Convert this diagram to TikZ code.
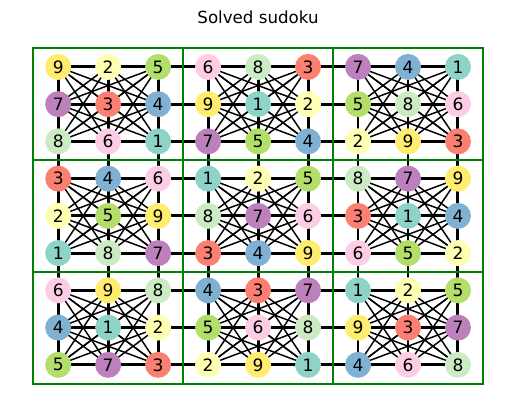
\documentclass[tikz,border=0pt]{standalone}
\usepackage{fontspec}
\setmainfont{DejaVu Sans}
\definecolor{d1}{HTML}{8DD3C7}
\definecolor{d2}{HTML}{FFFFB3}
\definecolor{d3}{HTML}{FB8072}
\definecolor{d4}{HTML}{80B1D3}
\definecolor{d5}{HTML}{B3DE69}
\definecolor{d6}{HTML}{FCCDE5}
\definecolor{d7}{HTML}{BC80BD}
\definecolor{d8}{HTML}{CCEBC5}
\definecolor{d9}{HTML}{FFED6F}
\definecolor{boxgreen}{HTML}{008000}
\pgfdeclarelayer{edges}
\pgfdeclarelayer{frame}
\pgfsetlayers{edges,frame,main}
\tikzset{
  cell/.style={circle, fill=d#1, minimum size=19.5pt, inner sep=0pt,
    font=\fontsize{12.8}{14}\selectfont},
  lineedge/.style={line width=2.2pt, black},
  boxedge/.style={line width=1.1pt, black},
  boxline/.style={line width=1.5pt, draw=boxgreen},
  title/.style={font=\fontsize{12.5}{15}\selectfont},
}

\begin{document}
\begin{tikzpicture}[x=0.75pt, y=-0.75pt]
  \useasboundingbox (0,0) rectangle (515,411);
  \node[title] (title) at (258,17) {Solved sudoku};
  % the 81 cells, one row of the solution at a time
  \foreach \row [count=\r from 0] in {
      {9,2,5,6,8,3,7,4,1}, {7,3,4,9,1,2,5,8,6}, {8,6,1,7,5,4,2,9,3},
      {3,4,6,1,2,5,8,7,9}, {2,5,9,8,7,6,3,1,4}, {1,8,7,3,4,9,6,5,2},
      {6,9,8,4,3,7,1,2,5}, {4,1,2,5,6,8,9,3,7}, {5,7,3,2,9,1,4,6,8}} {
    \foreach \d [count=\c from 0] in \row
      \node[cell=\d] (n-\r-\c) at ({58.2+49.97*\c}, {66.9+37.24*\r}) {\d};
  }
  \begin{pgfonlayer}{edges}
    % same row, same column
    \foreach \r in {0,...,8}
      \foreach \a in {0,...,7} {
        \pgfmathtruncatemacro\s{\a+1}
        \foreach \b in {\s,...,8} {
          \draw[lineedge] (n-\r-\a.center) -- (n-\r-\b.center);
          \draw[lineedge] (n-\a-\r.center) -- (n-\b-\r.center);
        }
      }
    % same box
    \foreach \br in {0,1,2}
      \foreach \bc in {0,1,2}
        \foreach \i in {0,...,7} {
          \pgfmathtruncatemacro\s{\i+1}
          \foreach \j in {\s,...,8} {
            \pgfmathtruncatemacro\ra{3*\br+int(\i/3)}
            \pgfmathtruncatemacro\ca{3*\bc+mod(\i,3)}
            \pgfmathtruncatemacro\rb{3*\br+int(\j/3)}
            \pgfmathtruncatemacro\cb{3*\bc+mod(\j,3)}
            \ifnum\ra=\rb\else\ifnum\ca=\cb\else
              \draw[boxedge] (n-\ra-\ca.center) -- (n-\rb-\cb.center);
            \fi\fi
          }
        }
  \end{pgfonlayer}
  \begin{pgfonlayer}{frame}
    \draw[boxline] (33.3,48.3) rectangle (483,383.5);
    \foreach \x in {183.2,333.1}
      \draw[boxline] (\x,48.3) -- (\x,383.5);
    \foreach \y in {160,271.7}
      \draw[boxline] (33.3,\y) -- (483,\y);
  \end{pgfonlayer}
\end{tikzpicture}
\end{document}
